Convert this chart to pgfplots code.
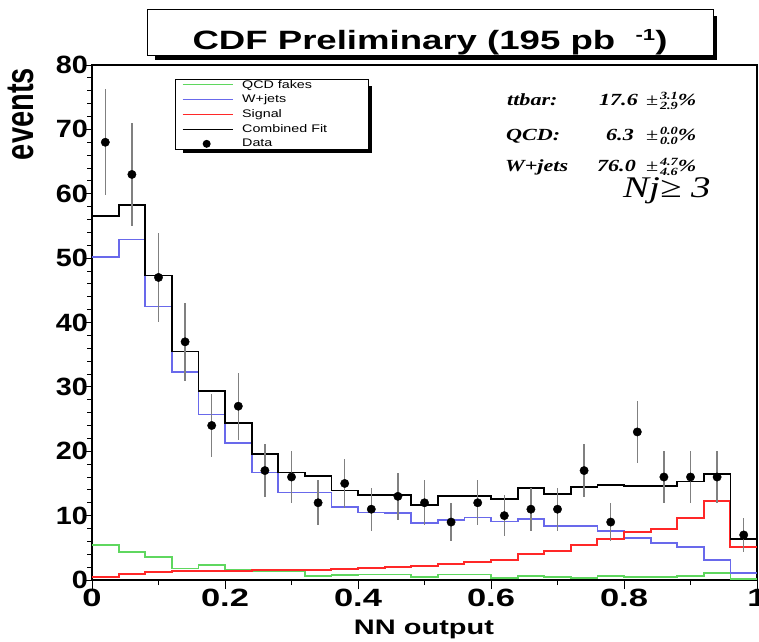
\documentclass[border=0pt]{standalone}
\usepackage{fontspec}
\setmainfont{Liberation Sans}
\newfontfamily\sfw[FakeStretch=1.38]{Liberation Sans}
\newfontfamily\sfy[FakeStretch=1.15]{Liberation Sans}
\newfontfamily\sfl[FakeStretch=1.3]{Liberation Sans}
\newfontfamily\serw[FakeStretch=1.3]{Liberation Serif}
\usepackage{pgfplots}
\usepackage{pgfplotstable}
\pgfplotsset{compat=1.18}
\definecolor{qcdg}{RGB}{95,215,95}
\definecolor{wjb}{RGB}{105,105,235}
\definecolor{sigr}{RGB}{255,40,40}
\newcommand\ticf{\sfw\bfseries\fontsize{25}{28}\selectfont}
\newcommand\ticy{\sfy\bfseries\fontsize{25}{28}\selectfont}
\newcommand\legf{\sfl\fontsize{11}{12}\selectfont}
\newcommand\tbi{\serw\bfseries\itshape\fontsize{17}{18}\selectfont}
\newcommand\pmpart[2]{{\serw\fontsize{17}{18}\selectfont ±}\,\rlap{\raisebox{6pt}{\serw\bfseries\itshape\fontsize{11}{11}\selectfont #1}}\raisebox{-3.5pt}{\serw\bfseries\itshape\fontsize{11}{11}\selectfont #2}{\serw\bfseries\itshape\fontsize{17}{18}\selectfont\%}}

\pgfplotstableread{
x     qcd   wj    sig   fit
0.00  5.5   50.2  0.5   56.5
0.04  4.3   52.9  0.9   58.2
0.08  3.6   42.5  1.3   47.3
0.12  1.8   32.3  1.4   35.5
0.16  2.3   25.7  1.45  29.4
0.20  1.55  21.3  1.45  24.4
0.24  1.45  16.7  1.55  19.6
0.28  1.45  13.6  1.55  16.7
0.32  0.6   13.6  1.6   16.1
0.36  0.75  11.4  1.7   13.9
0.40  0.85  10.5  1.8   13.2
0.44  0.85  10.4  2.0   13.2
0.48  0.5   8.8   2.2   11.6
0.52  0.85  9.3   2.5   13.0
0.56  0.85  9.7   2.75  13.0
0.60  0.35  9.1   3.1   12.6
0.64  0.6   9.5   4.0   14.3
0.68  0.5   8.4   4.5   13.3
0.72  0.35  8.4   5.4   14.4
0.76  0.6   7.6   6.4   14.8
0.80  0.5   6.5   7.5   14.6
0.84  0.5   5.7   7.9   14.6
0.88  0.6   5.1   9.6   15.3
0.92  1.05  3.1   12.2  16.5
0.96  0.15  1.1   5.2   6.4
1.00  0.15  1.1   5.2   6.4
}\hist

\pgfplotstableread{
x     y    e
0.02  68   8.25
0.06  63   7.94
0.10  47   6.86
0.14  37   6.08
0.18  24   4.90
0.22  27   5.20
0.26  17   4.12
0.30  16   4.00
0.34  12   3.46
0.38  15   3.87
0.42  11   3.32
0.46  13   3.61
0.50  12   3.46
0.54  9    3.00
0.58  12   3.46
0.62  10   3.16
0.66  11   3.32
0.70  11   3.32
0.74  17   4.12
0.78  9    3.00
0.82  23   4.80
0.86  16   4.00
0.90  16   4.00
0.94  16   4.00
0.98  7    2.65
}\data

\begin{document}
\begin{tikzpicture}
\useasboundingbox (0,0) rectangle (759pt,641pt);
% title box with shadow
\fill (155pt,581pt) rectangle (717pt,625pt);
\draw[fill=white, line width=0.8pt] (147pt,632pt) rectangle (713pt,586pt);
\node[anchor=base, inner sep=0pt] at (430pt,591pt) {\sfw\bfseries\fontsize{26.5}{30}\selectfont CDF Preliminary (195 pb\ \ \raisebox{9pt}{\fontsize{16}{16}\selectfont -1})};
% legend box with shadow
\fill (183pt,488pt) rectangle (372pt,555pt);
\draw[fill=white, line width=0.6pt] (175pt,562pt) rectangle (368pt,492pt);

\begin{axis}[
  at={(92pt,61pt)}, anchor=south west,
  scale only axis, width=665pt, height=515pt,
  xmin=0, xmax=1, ymin=0, ymax=80,
  xtick={0,0.2,0.4,0.6,0.8,1}, xticklabels={0,0.2,0.4,0.6,0.8,1},
  ytick={0,10,20,30,40,50,60,70,80},
  minor x tick num=1, minor y tick num=4,
  xtick pos=bottom, ytick pos=left,
  tick align=outside, major tick length=9pt, minor tick length=5pt,
  tick style={black, line width=1pt},
  axis line style={line width=1.2pt},
  /pgf/number format/assume math mode=true,
  xticklabel style={font=\ticf, inner sep=0pt, yshift=0pt},
  yticklabel style={font=\ticy, inner sep=0pt, xshift=5pt},
  legend image code/.code={\draw[#1, line width=1pt] (0pt,0pt) -- (50pt,0pt);},
  legend style={at={(0.1353,0.9728)}, anchor=north west, draw=none, fill=none,
    font=\legf, inner sep=0pt, row sep=3.3pt, column sep=8pt,
    nodes={inner sep=1pt}},
  legend cell align=left,
]
\addplot[const plot, qcdg, line width=1.8pt, no markers] table[x=x,y=qcd]{\hist};
\addlegendentry{QCD fakes}
\addplot[const plot, wjb, line width=1.8pt, no markers] table[x=x,y=wj]{\hist};
\addlegendentry{W+jets}
\addplot[const plot, sigr, line width=2pt, no markers] table[x=x,y=sig]{\hist};
\addlegendentry{Signal}
\addplot[const plot, black, line width=1.8pt, no markers] table[x=x,y=fit]{\hist};
\addlegendentry{Combined Fit}
\addplot[only marks, mark=*, mark size=4.2pt, black,
  error bars/.cd, y dir=both, y explicit, error mark=none,
  error bar style={draw=black!50, line width=1.3pt},
  /pgfplots/legend image code/.code={\path[draw=none, fill=none] (0pt,0pt) -- (50pt,0pt); \fill[draw=none] (24pt,0pt) circle (4pt);}]
  table[x=x,y=y,y error=e]{\data};
\addlegendentry{Data}
\end{axis}

\node[rotate=90, anchor=base east, inner sep=0pt] at (33pt,573pt) {\scalebox{1}[1.35]{\bfseries\fontsize{29}{30}\selectfont events}};
\node[anchor=base, inner sep=0pt] at (424pt,7pt) {\sfw\bfseries\fontsize{21}{22}\selectfont NN output};

\node[anchor=base west, inner sep=0pt] at (507pt,535pt) {\tbi ttbar:};
\node[anchor=base east, inner sep=0pt] at (638pt,535pt) {\tbi 17.6};
\node[anchor=base west, inner sep=0pt] at (646pt,535pt) {\pmpart{3.1}{2.9}};
\node[anchor=base west, inner sep=0pt] at (506pt,500pt) {\tbi QCD:};
\node[anchor=base east, inner sep=0pt] at (634pt,500pt) {\tbi 6.3};
\node[anchor=base west, inner sep=0pt] at (646pt,500pt) {\pmpart{0.0}{0.0}};
\node[anchor=base west, inner sep=0pt] at (505pt,469pt) {\tbi W+jets};
\node[anchor=base east, inner sep=0pt] at (636pt,469pt) {\tbi 76.0};
\node[anchor=base west, inner sep=0pt] at (646pt,469pt) {\pmpart{4.7}{4.6}};
\node[anchor=base west, inner sep=0pt] at (623pt,443pt) {\serw\itshape\fontsize{30}{32}\selectfont Nj≥ 3};
\end{tikzpicture}
\end{document}
